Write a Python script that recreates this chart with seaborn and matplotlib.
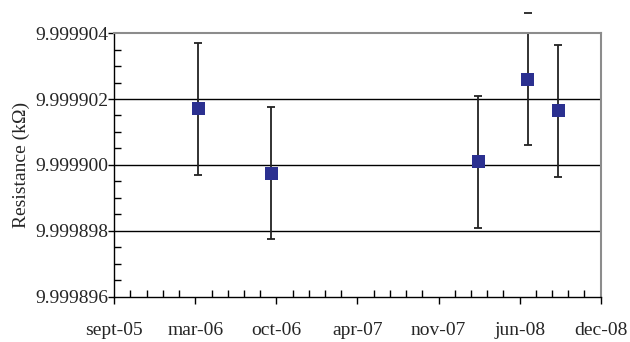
import matplotlib
matplotlib.use("Agg")
import matplotlib.pyplot as plt
import matplotlib.ticker as mticker
import seaborn as sns
import pandas as pd

# data
dates = ["2006-03-31", "2006-09-27", "2008-02-20", "2008-06-21", "2008-09-04"]
resistance = [9.9999017, 9.99989975, 9.9999001, 9.9999026, 9.99990165]
uncertainty = [2.0e-6, 2.0e-6, 2.0e-6, 2.0e-6, 2.0e-6]

x_start = "2005-09-05"
x_labels = ["sept-05", "mar-06", "oct-06", "apr-07", "nov-07", "jun-08", "dec-08"]
y_ticks = [9.999896, 9.999898, 9.999900, 9.999902, 9.999904]

df = pd.DataFrame({"date": pd.to_datetime(dates), "R": resistance, "u": uncertainty})

sns.set_theme(style="white")
plt.rcParams["font.family"] = ["Liberation Serif", "DejaVu Serif"]

fig = plt.figure(figsize=(6.3, 3.42), dpi=100)
ax = fig.add_axes([0.1814, 0.1316, 0.7721, 0.7719])

x_ticks = pd.date_range(x_start, periods=len(x_labels), freq="200D")

for y in y_ticks[1:-1]:
    ax.axhline(y, color="black", lw=1.0, zorder=1)

# error bars: the bar lines stay in the plot, the caps may poke out (as in the original)
_, caps, bars = ax.errorbar(df["date"], df["R"], yerr=df["u"], fmt="none", ecolor="#222222",
                            elinewidth=1.3, capsize=3, capthick=1.3, zorder=2)
for c in caps:
    c.set_clip_on(False)
sns.scatterplot(data=df, x="date", y="R", marker="s", s=85, color="#2B3090",
                edgecolor="none", zorder=3, ax=ax, clip_on=False)

ax.set_xlim(x_ticks[0], x_ticks[-1])
ax.set_ylim(y_ticks[0], y_ticks[-1])
ax.set_xticks(x_ticks)
ax.set_xticklabels(x_labels)
ax.xaxis.set_minor_locator(mticker.FixedLocator(
    list(pd.date_range(x_start, x_ticks[-1], freq="40D").map(matplotlib.dates.date2num))))
ax.set_yticks(y_ticks)
ax.yaxis.set_major_formatter(mticker.FormatStrFormatter("%.6f"))
ax.yaxis.set_minor_locator(mticker.MultipleLocator(0.5e-6))

ax.set_xlabel("")
ax.set_ylabel("Resistance (k\u03a9)", fontsize=14, labelpad=4)

ax.tick_params(axis="both", which="major", direction="out", length=5, width=1,
               color="black", labelsize=14, left=True, bottom=True)
ax.tick_params(axis="both", which="minor", direction="in", length=5, width=1,
               color="black", left=True, bottom=True)
ax.tick_params(axis="x", which="major", pad=13)
ax.tick_params(axis="y", which="major", length=4, pad=0)

for side in ["left", "bottom"]:
    ax.spines[side].set_color("black")
    ax.spines[side].set_linewidth(1.0)
for side in ["top", "right"]:
    ax.spines[side].set_color("#8c8c8c")
    ax.spines[side].set_linewidth(1.5)

fig.savefig("out.png", dpi=100)
